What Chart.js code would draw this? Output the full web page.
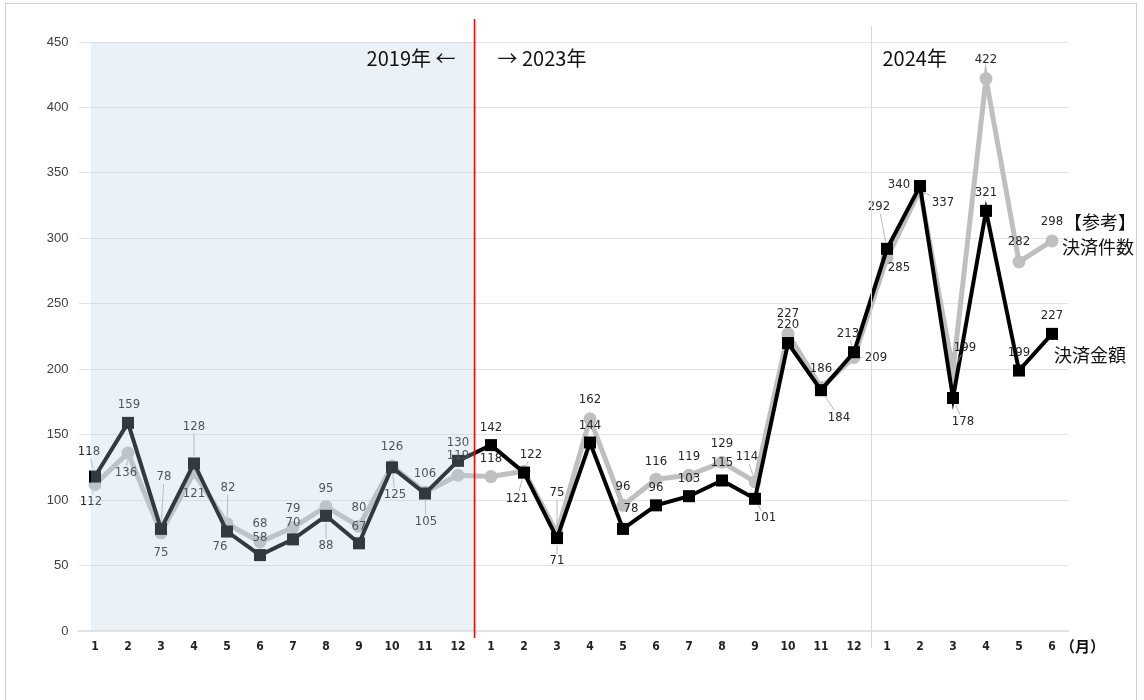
<!DOCTYPE html>
<html lang="ja">
<head>
<meta charset="utf-8">
<title>決済金額と決済件数の推移</title>
<script src="https://cdn.jsdelivr.net/npm/chart.js@4/dist/chart.umd.min.js"></script>
<style>
  html, body { margin: 0; padding: 0; background: #ffffff; }
  #wrap { width: 1144px; height: 700px; position: relative; }
</style>
</head>
<body>
<div id="wrap"><canvas id="c" width="1144" height="700"></canvas></div>
<script>
// Months on the x axis: 2019 (Jan–Dec), 2023 (Jan–Dec), 2024 (Jan–Jun)
const monthLabels = [
  '1','2','3','4','5','6','7','8','9','10','11','12',
  '1','2','3','4','5','6','7','8','9','10','11','12',
  '1','2','3','4','5','6'
];

// 決済金額
const amount = [
  118, 159, 78, 128, 76, 58, 70, 88, 67, 125, 105, 130,
  142, 121, 71, 144, 78, 96, 103, 115, 101, 220, 184, 213,
  292, 340, 178, 321, 199, 227
];

// 【参考】決済件数
const count = [
  112, 136, 75, 121, 82, 68, 79, 95, 80, 126, 106, 119,
  118, 122, 75, 162, 96, 116, 119, 129, 114, 227, 186, 209,
  285, 337, 199, 422, 282, 298
];

const yTicks = [0, 50, 100, 150, 200, 250, 300, 350, 400, 450];

const yearNotes = { left: '2019年 ←', mid: '→ 2023年', right: '2024年' };
const seriesNames = { amount: '決済金額', countTop: '【参考】', countBottom: '決済件数' };
const unitLabel = '（月）';

// Value-label placement: [dx, dy, leader line] from each point
const amountLabelLayout = [
  [-6,-25,1],[1,-18,0],[3,-52,1],[0,-37,1],[-7,15,0],[0,-17,0],[0,-17,0],[0,30,1],[0,-17,0],[3,27,1],[1,28,1],[0,-18,0],
  [0,-18,0],[-7,26,1],[0,23,1],[0,-17,0],[8,-20,0],[0,-18,0],[0,-18,0],[0,-18,0],[10,19,1],[0,-18,0],[18,27,1],[-6,-19,1],
  [-8,-42,1],[-21,-1,1],[10,24,1],[0,-18,0],[0,-18,0],[0,-18,0]
];
const countLabelLayout = [
  [-4,17,1],[-2,20,1],[0,20,0],[0,21,0],[1,-36,1],[0,-18,0],[0,-19,0],[0,-18,0],[0,-19,0],[0,-19,0],[0,-19,0],[0,-20,0],
  [0,-18,0],[7,-17,1],[0,-40,1],[0,-19,0],[0,-19,0],[0,-18,0],[0,-19,0],[0,-19,0],[-8,-25,1],[0,-20,0],[0,-19,0],[22,0,1],
  [12,10,0],[23,13,1],[12,-23,1],[0,-19,0],[0,-20,0],[0,-19,0]
];

const NARROW = '"Liberation Sans Narrow", "DejaVu Sans Condensed", "Liberation Sans", sans-serif';
const JP = '"Noto Sans CJK JP", "Noto Sans", sans-serif';

// White page with a thin frame
const framePlugin = {
  id: 'frame',
  beforeDraw(chart) {
    const ctx = chart.ctx;
    ctx.save();
    ctx.fillStyle = '#ffffff';
    ctx.fillRect(0, 0, chart.width, chart.height);
    ctx.strokeStyle = '#d0d0d0';
    ctx.lineWidth = 1;
    ctx.strokeRect(5.5, 3.5, 1131, 710);
    ctx.restore();
  }
};

// Value labels with optional leader lines
function drawValueLabels(chart, dsIndex, values, layout) {
  const ctx = chart.ctx;
  const meta = chart.getDatasetMeta(dsIndex);
  ctx.save();
  ctx.font = '13px ' + NARROW;
  ctx.textAlign = 'center';
  ctx.textBaseline = 'middle';
  meta.data.forEach((pt, i) => {
    const [dx, dy, leader] = layout[i];
    const lx = pt.x + dx, ly = pt.y + dy;
    const text = String(values[i]);
    if (leader) {
      const hw = ctx.measureText(text).width / 2 + 2, hh = 7;
      const len = Math.hypot(dx, dy);
      const ux = dx / len, uy = dy / len;
      const t = Math.min(dx !== 0 ? hw / Math.abs(dx) : Infinity, dy !== 0 ? hh / Math.abs(dy) : Infinity);
      const ex = lx - dx * t, ey = ly - dy * t;
      const sx = pt.x + ux * 7, sy = pt.y + uy * 7;
      if (Math.hypot(ex - pt.x, ey - pt.y) > 8) {
        ctx.strokeStyle = '#a6a6a6';
        ctx.lineWidth = 0.8;
        ctx.beginPath();
        ctx.moveTo(sx, sy);
        ctx.lineTo(ex, ey);
        ctx.stroke();
      }
    }
    ctx.fillStyle = '#262626';
    ctx.fillText(text, lx, ly);
  });
  ctx.restore();
}

const annotatePlugin = {
  id: 'annotate',
  afterDatasetsDraw(chart) {
    const ctx = chart.ctx;
    const xs = chart.scales.x, ys = chart.scales.y;
    const area = chart.chartArea;

    drawValueLabels(chart, 1, count, countLabelLayout);
    drawValueLabels(chart, 0, amount, amountLabelLayout);

    const split2019 = (xs.getPixelForValue(11) + xs.getPixelForValue(12)) / 2;
    const split2024 = (xs.getPixelForValue(23) + xs.getPixelForValue(24)) / 2;

    ctx.save();
    // 2019 period shading
    ctx.fillStyle = 'rgba(181, 206, 227, 0.28)';
    const shadeLeft = xs.getPixelForValue(0) - 4;
    ctx.fillRect(shadeLeft, ys.getPixelForValue(450), split2019 - shadeLeft, ys.getPixelForValue(0) - ys.getPixelForValue(450));

    // year dividers
    ctx.strokeStyle = '#d9d9d9';
    ctx.lineWidth = 1;
    ctx.beginPath();
    ctx.moveTo(Math.round(split2024) + 0.5, 26);
    ctx.lineTo(Math.round(split2024) + 0.5, area.bottom + 17);
    ctx.stroke();

    ctx.strokeStyle = '#ff0000';
    ctx.lineWidth = 1.5;
    ctx.beginPath();
    ctx.moveTo(split2019, 19);
    ctx.lineTo(split2019, area.bottom + 7);
    ctx.stroke();

    // year captions
    ctx.fillStyle = '#111111';
    ctx.font = '20px ' + JP;
    ctx.textBaseline = 'middle';
    ctx.textAlign = 'right';
    ctx.fillText(yearNotes.left, split2019 - 19, 58);
    ctx.textAlign = 'left';
    ctx.fillText(yearNotes.mid, split2019 + 23, 58);
    ctx.fillText(yearNotes.right, split2024 + 12, 58);

    // series names at line ends
    ctx.font = '18px ' + JP;
    ctx.textAlign = 'left';
    ctx.fillText(seriesNames.countTop, 1064, 222);
    ctx.fillText(seriesNames.countBottom, 1062, 247);
    ctx.fillText(seriesNames.amount, 1054, 355);

    // unit
    ctx.font = 'bold 15px ' + JP;
    ctx.fillText(unitLabel, 1060, 646);
    ctx.restore();
  }
};

new Chart(document.getElementById('c'), {
  type: 'line',
  data: {
    labels: monthLabels,
    datasets: [
      {
        label: seriesNames.amount,
        data: amount,
        borderColor: '#000000',
        backgroundColor: '#000000',
        borderWidth: 4,
        pointStyle: 'rect',
        pointRadius: 8.5,
        pointBorderWidth: 0,
        tension: 0
      },
      {
        label: seriesNames.countTop + seriesNames.countBottom,
        data: count,
        borderColor: '#bfbfbf',
        backgroundColor: '#bfbfbf',
        borderWidth: 5,
        pointStyle: 'circle',
        pointRadius: 6.5,
        pointBorderWidth: 0,
        tension: 0
      }
    ]
  },
  options: {
    responsive: false,
    animation: false,
    devicePixelRatio: 1,
    layout: { padding: { left: 0, right: 75.5, top: 42, bottom: 0 } },
    plugins: {
      legend: { display: false },
      tooltip: { enabled: false }
    },
    scales: {
      x: {
        type: 'category',
        offset: true,
        grid: { display: false, drawTicks: false, offset: true },
        border: { display: true, color: '#e3e3e3', width: 2 },
        ticks: {
          autoSkip: false,
          maxRotation: 0,
          padding: 9,
          color: '#222222',
          font: { family: NARROW, size: 12, weight: 'bold' }
        },
        afterFit(scale) { scale.height = 69; }
      },
      y: {
        min: 0,
        max: 450,
        afterBuildTicks(scale) { scale.ticks = yTicks.map(v => ({ value: v })); },
        grid: { color: '#e3e3e3', lineWidth: 1, drawTicks: false },
        border: { display: false },
        ticks: {
          padding: 10,
          color: '#404040',
          font: { family: '"Liberation Sans", Arial, sans-serif', size: 13 }
        },
        afterFit(scale) { scale.width = 78.5; }
      }
    }
  },
  plugins: [framePlugin, annotatePlugin]
});
</script>
</body>
</html>
